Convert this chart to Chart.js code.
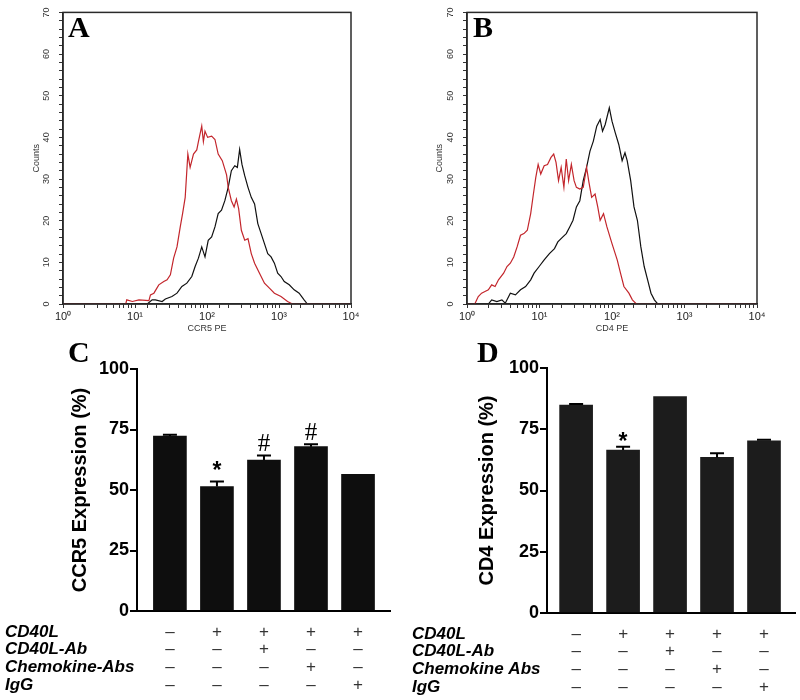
<!DOCTYPE html>
<html>
<head>
<meta charset="utf-8">
<script src="https://cdn.jsdelivr.net/npm/chart.js@4.4.0/dist/chart.umd.min.js"></script>
<style>
  body { margin: 0; background: #fff; }
  canvas { position: absolute; }
</style>
</head>
<body>
<canvas id="histA" width="370" height="340" style="left:0;top:0"></canvas>
<canvas id="histB" width="400" height="340" style="left:400px;top:0"></canvas>
<canvas id="barC" width="400" height="370" style="left:0;top:330px"></canvas>
<canvas id="barD" width="400" height="370" style="left:400px;top:330px"></canvas>
<script>
// panel A: CCR5 PE histograms (red = isotype, black = CCR5)
const ccr5RedX = [1, 7.44, 7.68, 9.19, 11.35, 15.6, 16.4, 18.3, 21.4, 25.1, 27.9, 31.0, 34.4, 38.3, 42.5, 45.8, 49.8, 54.2, 58.3, 64.9, 72.1, 76.0, 84.5, 89.1, 93.8, 102, 116, 129, 143, 163, 187, 197, 218, 238, 256, 275, 300, 334, 371, 412, 458, 536, 628, 736, 863, 1066, 1315, 1542, 10000];
const ccr5RedY = [0, 0, 1, 0.6, 1, 0.8, 2.2, 2.6, 4.6, 5.4, 5.8, 7, 11, 13.7, 18.5, 21.7, 25.6, 36, 32.8, 36, 37, 39, 42.7, 39, 41.5, 40, 40.3, 39.5, 36, 34.4, 31, 28, 24.8, 23.3, 25.2, 22.9, 17.7, 15.3, 15.7, 12.1, 9.8, 7.4, 5, 3.8, 2.6, 1.8, 0.6, 0, 0];
const ccr5BlackX = [1, 14.8, 17.3, 19.2, 23.8, 26.4, 32.6, 38.3, 44.8, 52.5, 61.5, 68.4, 76.0, 84.5, 93.8, 104, 116, 129, 143, 159, 177, 197, 218, 243, 264, 284, 306, 334, 371, 412, 458, 508, 565, 628, 698, 776, 863, 959, 1066, 1183, 1387, 1625, 1905, 2233, 2478, 10000];
const ccr5BlackY = [0, 0, 1, 1, 0.6, 1.2, 1.8, 2.6, 4.2, 5, 6.6, 9, 11, 13.7, 11.3, 15.3, 16.1, 18.5, 21.7, 22.5, 24.8, 28, 32, 33.2, 32.8, 37.1, 33.5, 30.8, 28, 25.6, 24, 19.3, 16.9, 14.5, 12.1, 11.3, 9.8, 7.4, 6.6, 5.4, 4.6, 3.4, 2.6, 1, 0, 0];

// panel B: CD4 PE histograms
const cd4RedX = [1, 1.28, 1.43, 1.59, 1.77, 1.97, 2.19, 2.44, 2.72, 3.20, 3.56, 3.96, 4.41, 4.91, 5.47, 6.10, 6.79, 7.56, 8.24, 8.89, 9.58, 10.4, 11.6, 12.9, 14.4, 15.7, 16.9, 18.3, 19.9, 21.7, 23.4, 25.2, 27.5, 30.0, 32.3, 36.0, 40.1, 44.6, 48.1, 52.4, 58.4, 63.6, 68.6, 76.4, 85.1, 100, 118, 131, 146, 171, 191, 217, 10000];
const cd4RedY = [0, 0, 1.8, 2.6, 3, 3.4, 4.6, 4.2, 5.8, 7.4, 9, 9.8, 11.3, 13.7, 16.5, 16.9, 17.7, 21.7, 26.4, 30.4, 33.5, 31.2, 33.2, 33.5, 35.2, 36, 34, 29.6, 32.8, 28, 34.8, 29.6, 33.5, 29.6, 28, 27.6, 28, 32.8, 29.2, 25.6, 26.4, 23.3, 20.1, 21.7, 18.5, 14.5, 10.6, 7.4, 4.2, 2.6, 1, 0, 0];
const cd4BlackX = [1, 1.97, 2.19, 2.58, 3.03, 3.37, 3.96, 4.66, 5.47, 6.43, 7.56, 8.42, 9.89, 11.6, 13.7, 16.1, 17.9, 21.0, 23.4, 26.1, 29.0, 32.3, 36.0, 40.1, 44.6, 49.7, 55.3, 61.6, 68.6, 74.0, 80.6, 91.8, 100, 111, 124, 138, 151, 162, 181, 201, 224, 250, 278, 310, 345, 384, 427, 10000];
const cd4BlackY = [0, 0, 1, 0.6, 1, 0.2, 2.6, 2.2, 3.4, 4.2, 5.8, 7.4, 9, 10.6, 12.1, 13.3, 14.9, 16.1, 16.9, 18.5, 20.1, 23.3, 24.8, 29.6, 32.8, 36.7, 39.1, 42.7, 44.3, 41.5, 43.1, 47.1, 43.9, 41.1, 38.3, 34.4, 36.3, 34.4, 29.6, 23.3, 20.1, 13.7, 9, 5.8, 2.6, 1, 0, 0];

const decadeLabels = ["10\u2070", "10\u00b9", "10\u00b2", "10\u00b3", "10\u2074"];

// panels C and D: bar charts
const ccr5Values = [72.3, 51.4, 62.4, 67.9, 56.5];
const ccr5Errors = [0.5, 2.1, 1.9, 1.0, 0];
const ccr5Marks = ["", "*", "#", "#", ""];
const cd4Values = [84.9, 66.5, 88.3, 63.5, 70.3];
const cd4Errors = [0.4, 1.4, 0, 1.7, 0.4];
const cd4Marks = ["", "*", "", "", ""];

const rowNamesC = ["CD40L", "CD40L-Ab", "Chemokine-Abs", "IgG"];
const rowNamesD = ["CD40L", "CD40L-Ab", "Chemokine Abs", "IgG"];
const rowSigns = [
    ["\u2013", "+", "+", "+", "+"],
    ["\u2013", "\u2013", "+", "\u2013", "\u2013"],
    ["\u2013", "\u2013", "\u2013", "+", "\u2013"],
    ["\u2013", "\u2013", "\u2013", "\u2013", "+"],
];

function toPoints(xs, ys) {
    return xs.map((x, i) => ({ x: x, y: ys[i] }));
}

function letterPlugin(letter, x, y, frame) {
    return {
        id: "letter",
        afterDraw(chart) {
            const ctx = chart.ctx;
            const a = chart.chartArea;
            ctx.save();
            if (frame) {
                ctx.strokeStyle = "#2a2a2a";
                ctx.lineWidth = 1.5;
                ctx.strokeRect(a.left, a.top, a.right - a.left, a.bottom - a.top);
            }
            ctx.fillStyle = "#000";
            ctx.font = 'bold 30px "Liberation Serif"';
            ctx.textBaseline = "alphabetic";
            ctx.fillText(letter, x, y);
            ctx.restore();
        },
    };
}

function histChart(id, redX, redY, blackX, blackY, xTitle, opts) {
    new Chart(document.getElementById(id), {
        type: "line",
        data: {
            datasets: [
                { data: toPoints(redX, redY), borderColor: "#c3262c", borderWidth: 1.2, pointRadius: 0, tension: 0 },
                { data: toPoints(blackX, blackY), borderColor: "#111", borderWidth: 1.2, pointRadius: 0, tension: 0 },
            ],
        },
        options: {
            responsive: false,
            animation: false,
            layout: { padding: { top: 10, right: opts.right, left: 0, bottom: 0 } },
            plugins: { legend: { display: false }, tooltip: { enabled: false } },
            scales: {
                x: {
                    type: "logarithmic",
                    min: 1,
                    max: 10000,
                    afterFit: (s) => { s.height = 36; },
                    ticks: {
                        autoSkip: false,
                        maxRotation: 0,
                        padding: 2,
                        color: "#222",
                        font: { family: "Liberation Sans", size: 11 },
                        callback: (v) => {
                            const e = Math.log10(v);
                            return Math.abs(e - Math.round(e)) < 1e-6 ? decadeLabels[Math.round(e)] : "";
                        },
                    },
                    grid: { drawOnChartArea: false, tickLength: 4, color: "#333" },
                    border: { color: "#222", width: 1.5 },
                    title: { display: true, text: xTitle, color: "#333", font: { family: "Liberation Sans", size: 9 }, padding: { top: 0, bottom: 6 } },
                },
                y: {
                    min: 0,
                    max: 70,
                    afterFit: (s) => { s.width = opts.yWidth; },
                    ticks: {
                        stepSize: 2,
                        maxTicksLimit: 100,
                        autoSkip: false,
                        minRotation: 90,
                        crossAlign: "center",
                        padding: 7,
                        color: "#333",
                        font: { family: "Liberation Sans", size: 9 },
                        callback: (v) => (v % 10 === 0 ? String(v) : ""),
                    },
                    grid: { drawOnChartArea: false, tickLength: 4, color: "#333" },
                    border: { color: "#222", width: 1.5 },
                    title: { display: true, text: "Counts", color: "#333", font: { family: "Liberation Sans", size: 9 }, padding: { top: opts.titlePad, bottom: 0 } },
                },
            },
        },
        plugins: [letterPlugin(opts.letter, opts.letterX, 37, true)],
    });
}

function barExtras(errors, marks, rowNames, rowX, markGap) {
    return {
        id: "barExtras",
        afterDatasetsDraw(chart) {
            const ctx = chart.ctx;
            const xs = chart.scales.x;
            const ys = chart.scales.y;
            const values = chart.data.datasets[0].data.map((p) => p.y);
            ctx.save();
            ctx.strokeStyle = "#000";
            ctx.lineWidth = 2;
            values.forEach((v, i) => {
                const x = xs.getPixelForValue(i);
                const yBar = ys.getPixelForValue(v);
                const yTop = ys.getPixelForValue(v + errors[i]);
                if (errors[i] > 0) {
                    ctx.beginPath();
                    ctx.moveTo(x, yBar);
                    ctx.lineTo(x, yTop);
                    ctx.moveTo(x - 7, yTop);
                    ctx.lineTo(x + 7, yTop);
                    ctx.stroke();
                }
                if (marks[i]) {
                    ctx.fillStyle = "#000";
                    ctx.textAlign = "center";
                    ctx.textBaseline = "alphabetic";
                    ctx.font = marks[i] === "*" ? 'bold 23px "Liberation Sans"' : '25px "Liberation Serif"';
                    ctx.fillText(marks[i], x, yTop - markGap);
                }
            });
            // treatment table under the axis
            const top = chart.chartArea.bottom + 21;
            rowNames.forEach((name, r) => {
                const y = top + r * 17.8;
                ctx.textBaseline = "middle";
                ctx.textAlign = "left";
                ctx.fillStyle = "#000";
                ctx.font = 'italic bold 17px "Liberation Sans"';
                ctx.fillText(name, rowX, y);
                ctx.textAlign = "center";
                ctx.fillStyle = "#333";
                ctx.font = '17px "Liberation Sans"';
                rowSigns[r].forEach((s, i) => {
                    ctx.fillText(s, xs.getPixelForValue(i), y);
                });
            });
            ctx.restore();
        },
    };
}

function barChart(id, values, errors, marks, rowNames, yTitle, opts) {
    new Chart(document.getElementById(id), {
        type: "bar",
        data: {
            datasets: [
                { data: values.map((v, i) => ({ x: i, y: v })), backgroundColor: opts.color, barThickness: 33 },
            ],
        },
        options: {
            responsive: false,
            animation: false,
            layout: { padding: { top: opts.top, right: opts.right, left: 0, bottom: 0 } },
            plugins: { legend: { display: false }, tooltip: { enabled: false } },
            scales: {
                x: {
                    type: "linear",
                    offset: false,
                    min: opts.xMin,
                    max: opts.xMax,
                    afterFit: (s) => { s.height = opts.xHeight; },
                    ticks: { display: false },
                    grid: { display: false },
                    border: { color: "#000", width: 2 },
                },
                y: {
                    min: 0,
                    max: 100,
                    afterFit: (s) => { s.width = opts.yWidth; },
                    ticks: {
                        stepSize: 25,
                        padding: 1,
                        color: "#000",
                        font: { family: "Liberation Sans", size: 18, weight: "bold" },
                    },
                    grid: { drawOnChartArea: false, tickLength: 7, color: "#000", lineWidth: 2 },
                    border: { color: "#000", width: 2 },
                    title: {
                        display: true,
                        text: yTitle,
                        color: "#000",
                        font: { family: "Liberation Sans", size: 20, weight: "bold" },
                        padding: { top: opts.titlePad, bottom: 0 },
                    },
                },
            },
        },
        plugins: [
            barExtras(errors, marks, rowNames, opts.rowX, opts.markGap),
            letterPlugin(opts.letter, opts.letterX, 32, false),
        ],
    });
}

histChart("histA", ccr5RedX, ccr5RedY, ccr5BlackX, ccr5BlackY, "CCR5 PE",
    { right: 19, yWidth: 63, titlePad: 31.6, letter: "A", letterX: 68 });
histChart("histB", cd4RedX, cd4RedY, cd4BlackX, cd4BlackY, "CD4 PE",
    { right: 43, yWidth: 67, titlePad: 34.6, letter: "B", letterX: 73 });

barChart("barC", ccr5Values, ccr5Errors, ccr5Marks, rowNamesC, "CCR5 Expression (%)",
    { color: "#0e0e0e", top: 39, right: 10, xHeight: 89, yWidth: 137, xMin: -0.7, xMax: 4.68,
      titlePad: 68, rowX: 5, markGap: 4, letter: "C", letterX: 68 });
barChart("barD", cd4Values, cd4Errors, cd4Marks, rowNamesD, "CD4 Expression (%)",
    { color: "#1c1c1c", top: 38, right: 5, xHeight: 87, yWidth: 147, xMin: -0.62, xMax: 4.66,
      titlePad: 75, rowX: 12, markGap: -2, letter: "D", letterX: 77 });
</script>
</body>
</html>
